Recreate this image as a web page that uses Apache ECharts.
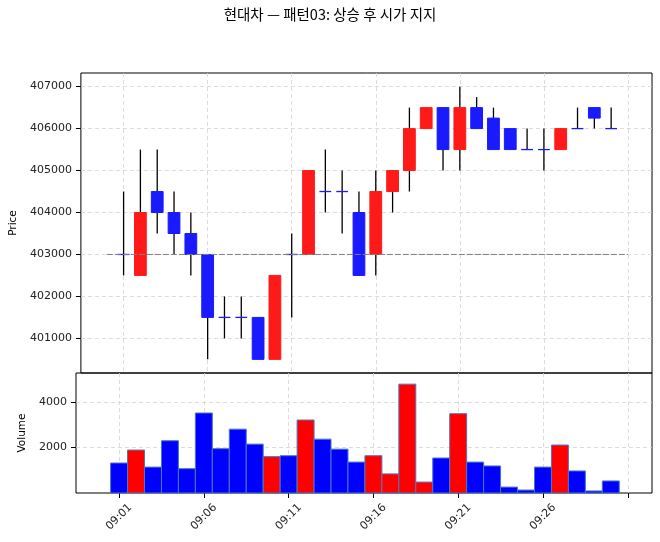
<!DOCTYPE html>
<html>
<head>
<meta charset="utf-8">
<script src="https://cdn.jsdelivr.net/npm/echarts@6/dist/echarts.min.js"></script>
<style>
html, body { margin: 0; padding: 0; background: #fff; }
#chart { width: 660px; height: 542px; }
</style>
</head>
<body>
<div id="chart"></div>
<script>
// 1분봉 데이터
var times = ['09:01','09:02','09:03','09:04','09:05','09:06','09:07','09:08','09:09','09:10',
             '09:11','09:12','09:13','09:14','09:15','09:16','09:17','09:18','09:19','09:20',
             '09:21','09:22','09:23','09:24','09:25','09:26','09:27','09:28','09:29','09:30'];
var opens  = [403000,402500,404500,404000,403500,403000,401500,401500,401500,400500,
              403000,403000,404500,404500,404000,403000,404500,405000,406000,406500,
              405500,406500,406250,406000,405500,405500,405500,406000,406500,406000];
var closes = [403000,404000,404000,403500,403000,401500,401500,401500,400500,402500,
              403000,405000,404500,404500,402500,404500,405000,406000,406500,405500,
              406500,406000,405500,405500,405500,405500,406000,406000,406250,406000];
var highs  = [404500,405500,405500,404500,404000,403000,402000,402000,401500,402500,
              403500,405000,405500,405000,404500,405000,405000,406500,406500,406500,
              407000,406750,406500,406000,406000,406000,406000,406500,406500,406500];
var lows   = [402500,402500,403500,403000,402500,400500,401000,401000,400500,400500,
              401500,403000,404000,403500,402500,402500,404000,404500,406000,405000,
              405000,406000,405500,405500,405500,405000,405500,406000,406000,406000];
var volumes = [1320,1890,1140,2300,1070,3520,1950,2810,2150,1600,
               1640,3210,2370,1930,1360,1640,840,4790,480,1540,
               3490,1360,1190,260,130,1140,2110,970,90,530];

// 시가 라인
var openLineTimes = ['09:00', '09:31'];
var openPrice = 403000;

// 축 눈금
var xTickTimes  = ['09:01','09:06','09:11','09:16','09:21','09:26','09:31'];
var xTickLabels = ['09:01','09:06','09:11','09:16','09:21','09:26'];
var priceTicks  = [401000,402000,403000,404000,405000,406000,407000];
var volumeTicks = [2000,4000];

var UP = '#ff1a1a', DOWN = '#1a1aff';
var BODY_W = 0.7;   // 분 단위

function toMin(t) {
    var p = t.split(':');
    return parseInt(p[0], 10) * 60 + parseInt(p[1], 10) - 540;
}
function fromMin(v) {
    var m = Math.round(v) + 540;
    var mm = m % 60;
    return '0' + Math.floor(m / 60) + ':' + (mm < 10 ? '0' + mm : mm);
}

var candleData = [], volumeData = [];
for (var i = 0; i < times.length; i++) {
    var x = toMin(times[i]);
    candleData.push([x, opens[i], closes[i], lows[i], highs[i]]);
    volumeData.push([x, volumes[i], closes[i] > opens[i] ? 1 : -1]);
}

function renderCandle(params, api) {
    var x = api.value(0), o = api.value(1), c = api.value(2), l = api.value(3), h = api.value(4);
    var top = api.coord([x, h]), bot = api.coord([x, l]);
    var a = api.coord([x - BODY_W / 2, Math.max(o, c)]);
    var b = api.coord([x + BODY_W / 2, Math.min(o, c)]);
    var children = [{
        type: 'line',
        shape: { x1: top[0], y1: top[1], x2: bot[0], y2: bot[1] },
        style: { stroke: '#000', lineWidth: 1.3 }
    }];
    if (o === c) {
        children.push({
            type: 'line',
            shape: { x1: a[0], y1: a[1], x2: b[0], y2: a[1] },
            style: { stroke: DOWN, lineWidth: 1.3 }
        });
    } else {
        var col = c > o ? UP : DOWN;
        children.push({
            type: 'rect',
            shape: { x: a[0], y: a[1], width: b[0] - a[0], height: b[1] - a[1] },
            style: { fill: col, stroke: col, lineWidth: 1 }
        });
    }
    return { type: 'group', children: children };
}

function renderVolume(params, api) {
    var x = api.value(0), v = api.value(1);
    var a = api.coord([x - 0.5, v]), b = api.coord([x + 0.5, 0]);
    return {
        type: 'rect',
        shape: { x: a[0], y: a[1], width: b[0] - a[0], height: b[1] - a[1] },
        style: { fill: api.value(2) > 0 ? '#ff0000' : '#0000ff', stroke: '#4a78c0', lineWidth: 1 }
    };
}

var gridLine = { show: true, lineStyle: { color: '#d3d3d3', type: [4, 3], width: 0.8 } };
var labelFont = { fontFamily: 'DejaVu Sans', fontSize: 11, color: '#222' };
var plainNum = function (v) { return String(v); };
var xMin = -1.54, xMax = 32.43;
var xTicks = xTickTimes.map(toMin);
var xLabelVals = xTickLabels.map(toMin);

var option = {
    animation: false,
    backgroundColor: '#fff',
    title: {
        text: '현대차 — 패턴03: 상승 후 시가 지지',
        left: 'center',
        top: 2,
        textStyle: { fontFamily: 'Noto Sans CJK KR', fontSize: 14.5, fontWeight: 'normal', color: '#000' }
    },
    grid: [
        { left: 76, top: 73, width: 576, height: 300, show: true, borderColor: '#000', borderWidth: 1 },
        { left: 76, top: 373, width: 576, height: 120, show: true, borderColor: '#000', borderWidth: 1 }
    ],
    xAxis: [
        {
            type: 'value', gridIndex: 0, min: xMin, max: xMax,
            axisLine: { show: false, onZero: false },
            axisTick: { show: false, customValues: xTicks },
            axisLabel: { show: false, customValues: xLabelVals },
            splitLine: gridLine
        },
        {
            type: 'value', gridIndex: 1, min: xMin, max: xMax,
            axisLine: { show: false, onZero: false },
            axisTick: { show: true, length: 5, customValues: xTicks, lineStyle: { color: '#000' } },
            axisLabel: Object.assign({ customValues: xLabelVals, rotate: 45, margin: 24,
                align: 'center', verticalAlign: 'middle',
                formatter: function (v) { return fromMin(v); } }, labelFont),
            splitLine: gridLine
        }
    ],
    yAxis: [
        {
            type: 'value', gridIndex: 0, min: 400175, max: 407325,
            name: 'Price', nameLocation: 'middle', nameGap: 58, nameRotate: 90,
            nameTextStyle: { fontFamily: 'DejaVu Sans', fontSize: 10.5, color: '#000' },
            axisLine: { show: false, onZero: false },
            axisTick: { show: true, length: 5, customValues: priceTicks, lineStyle: { color: '#000' } },
            axisLabel: Object.assign({ customValues: priceTicks, margin: 9, formatter: plainNum }, labelFont),
            splitLine: gridLine
        },
        {
            type: 'value', gridIndex: 1, min: 0, max: 5280,
            name: 'Volume', nameLocation: 'middle', nameGap: 45, nameRotate: 90,
            nameTextStyle: { fontFamily: 'DejaVu Sans', fontSize: 10.5, color: '#000' },
            axisLine: { show: false, onZero: false },
            axisTick: { show: true, length: 5, customValues: volumeTicks, lineStyle: { color: '#000' } },
            axisLabel: Object.assign({ customValues: volumeTicks, margin: 9, formatter: plainNum }, labelFont),
            splitLine: gridLine
        }
    ],
    series: [
        {
            name: 'candle', type: 'custom', xAxisIndex: 0, yAxisIndex: 0,
            renderItem: renderCandle,
            encode: { x: 0, y: [1, 2, 3, 4] },
            data: candleData, z: 2
        },
        {
            name: 'open', type: 'line', xAxisIndex: 0, yAxisIndex: 0,
            data: openLineTimes.map(function (t) { return [toMin(t), openPrice]; }),
            symbol: 'none', silent: true,
            lineStyle: { color: '#808080', width: 1, type: [6, 2] }, z: 3
        },
        {
            name: 'volume', type: 'custom', xAxisIndex: 1, yAxisIndex: 1,
            renderItem: renderVolume,
            encode: { x: 0, y: 1 },
            data: volumeData, z: 2
        }
    ]
};

var myChart = echarts.init(document.getElementById('chart'));
myChart.setOption(option);
</script>
</body>
</html>
